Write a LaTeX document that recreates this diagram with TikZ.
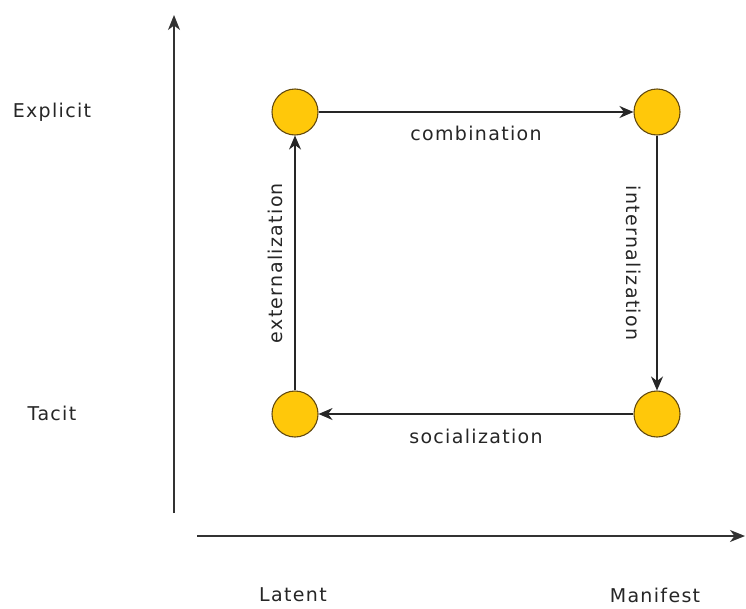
\documentclass[tikz,border=0pt]{standalone}
\usepackage{fontspec}
\setmainfont{DejaVu Sans}[LetterSpace=7]
\usetikzlibrary{arrows.meta}

\definecolor{knotfill}{RGB}{255,200,10}
\definecolor{knotline}{RGB}{100,75,15}
\definecolor{axisgray}{RGB}{50,50,50}

\tikzset{
  knot/.style={circle, draw=knotline, line width=1.1pt, fill=knotfill, minimum size=46pt, inner sep=0pt},
  flow/.style={draw=black!85, line width=1.2pt, -{Stealth[length=14pt,width=12pt,inset=4.5pt]}},
  axis/.style={draw=axisgray, line width=1.6pt, -{Stealth[length=15pt,width=12pt,inset=4.5pt]}},
  tag/.style={font=\fontsize{19}{22}\selectfont, text=black!85, inner sep=0pt}
}

\begin{document}
\begin{tikzpicture}[x=1pt, y=-1pt, line join=round]
\useasboundingbox (0,0) rectangle (746,608);

% axes
\coordinate (yfoot) at (174,513);
\coordinate (ytip) at (174,15);
\coordinate (xfoot) at (197,536);
\coordinate (xtip) at (745,536);
\draw[axis] (yfoot) -- (ytip);
\draw[axis] (xfoot) -- (xtip);

% axis labels
\node[tag] (explicit) at (52,112) {Explicit};
\node[tag] (tacit) at (52,413) {Tacit};
\node[tag] (latent) at (293,595) {Latent};
\node[tag] (manifest) at (655,595) {Manifest};

% the four states
\node[knot] (exlat) at (295,112) {};
\node[knot] (exman) at (657,112) {};
\node[knot] (talat) at (295,414) {};
\node[knot] (taman) at (657,414) {};

% conversions
\draw[flow] (exlat) -- node[tag, midway, yshift=-21pt] {combination} (exman);
\draw[flow] (exman) -- node[tag, midway, xshift=-23pt, rotate=-90] {internalization} (taman);
\draw[flow] (taman) -- node[tag, midway, yshift=-22pt] {socialization} (talat);
\draw[flow] (talat) -- node[tag, midway, xshift=-20pt, rotate=90] {externalization} (exlat);

\end{tikzpicture}
\end{document}
